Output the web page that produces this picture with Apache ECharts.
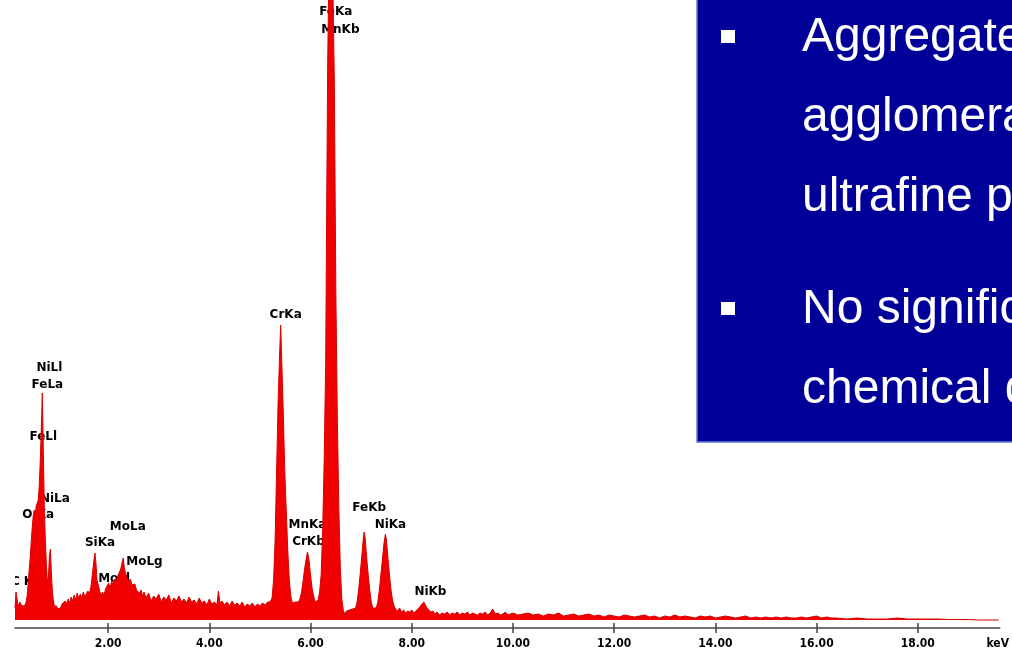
<!DOCTYPE html>
<html>
<head>
<meta charset="utf-8">
<script src="https://cdn.jsdelivr.net/npm/echarts@6/dist/echarts.min.js"></script>
<style>
  html, body { margin: 0; padding: 0; background: #fff; }
  #spectrum { width: 1012px; height: 653px; }
</style>
</head>
<body>
<div id="spectrum"></div>
<script>
// EDS spectrum, [keV, counts]
var spectrum = [
  [0.16, 12], [0.18, 28], [0.20, 30], [0.22, 14], [0.24, 16], [0.26, 18], [0.28, 15], [0.30, 17],
  [0.32, 14], [0.34, 16], [0.36, 15], [0.38, 18], [0.40, 24], [0.42, 36], [0.44, 50], [0.46, 62],
  [0.48, 78], [0.50, 92], [0.52, 104], [0.54, 110], [0.56, 106], [0.58, 114], [0.60, 112], [0.62, 120],
  [0.64, 135], [0.66, 160], [0.68, 192], [0.70, 227], [0.72, 168], [0.74, 110], [0.76, 80], [0.78, 55],
  [0.80, 38], [0.82, 42], [0.84, 64], [0.86, 71], [0.88, 45], [0.90, 28], [0.92, 18], [0.94, 14],
  [0.96, 12], [0.98, 14], [1.00, 11], [1.03, 13], [1.06, 12], [1.09, 16], [1.12, 14], [1.15, 19],
  [1.18, 16], [1.21, 21], [1.24, 17], [1.27, 23], [1.30, 19], [1.33, 25], [1.36, 20], [1.39, 27],
  [1.42, 21], [1.45, 26], [1.48, 22], [1.51, 28], [1.54, 23], [1.57, 25], [1.60, 29], [1.63, 26],
  [1.66, 33], [1.69, 46], [1.72, 60], [1.74, 67], [1.76, 57], [1.78, 40], [1.80, 42], [1.83, 30],
  [1.86, 24], [1.89, 28], [1.92, 25], [1.95, 31], [1.98, 34], [2.01, 37], [2.04, 32], [2.07, 39],
  [2.10, 35], [2.13, 41], [2.16, 38], [2.19, 44], [2.22, 46], [2.25, 51], [2.28, 58], [2.30, 62],
  [2.32, 52], [2.35, 46], [2.38, 42], [2.41, 38], [2.44, 41], [2.47, 35], [2.50, 33], [2.53, 36],
  [2.56, 30], [2.59, 32], [2.62, 27], [2.65, 30], [2.68, 24], [2.71, 28], [2.75, 22], [2.80, 27],
  [2.85, 19], [2.90, 24], [2.95, 21], [3.00, 26], [3.05, 18], [3.10, 23], [3.15, 20], [3.20, 25],
  [3.25, 17], [3.30, 22], [3.35, 19], [3.40, 24], [3.45, 18], [3.50, 21], [3.55, 17], [3.60, 23],
  [3.65, 18], [3.70, 20], [3.75, 16], [3.80, 22], [3.85, 17], [3.90, 19], [3.95, 15], [4.00, 21],
  [4.05, 16], [4.10, 18], [4.15, 15], [4.18, 29], [4.21, 17], [4.25, 19], [4.30, 15], [4.35, 18],
  [4.40, 14], [4.45, 19], [4.50, 15], [4.55, 17], [4.60, 14], [4.65, 18], [4.70, 13], [4.75, 16],
  [4.80, 14], [4.85, 17], [4.90, 13], [4.95, 16], [5.00, 14], [5.05, 17], [5.10, 15], [5.15, 18],
  [5.20, 18], [5.24, 22], [5.27, 40], [5.30, 80], [5.33, 150], [5.36, 220], [5.39, 267], [5.41, 295],
  [5.43, 262], [5.46, 210], [5.49, 150], [5.52, 110], [5.55, 70], [5.58, 40], [5.61, 24], [5.64, 17],
  [5.67, 15], [5.70, 18], [5.73, 16], [5.76, 18], [5.79, 21], [5.82, 27], [5.85, 38], [5.88, 50],
  [5.91, 60], [5.94, 68], [5.97, 60], [6.00, 45], [6.03, 32], [6.06, 24], [6.09, 18], [6.12, 16],
  [6.15, 20], [6.18, 28], [6.21, 45], [6.24, 90], [6.27, 160], [6.30, 260], [6.32, 420], [6.34, 560],
  [6.36, 640], [6.38, 660], [6.41, 660], [6.44, 640], [6.47, 540], [6.50, 330], [6.53, 200], [6.56, 110],
  [6.59, 50], [6.62, 20], [6.65, 9], [6.68, 6], [6.71, 9], [6.74, 7], [6.77, 10], [6.80, 8],
  [6.83, 11], [6.86, 9], [6.89, 12], [6.92, 18], [6.95, 30], [6.98, 45], [7.01, 62], [7.04, 80],
  [7.06, 88], [7.08, 82], [7.11, 62], [7.14, 45], [7.17, 30], [7.20, 18], [7.23, 12], [7.26, 10],
  [7.30, 12], [7.33, 18], [7.36, 30], [7.39, 45], [7.42, 60], [7.45, 76], [7.48, 86], [7.50, 80],
  [7.53, 62], [7.56, 45], [7.59, 30], [7.62, 20], [7.65, 14], [7.68, 11], [7.72, 9], [7.76, 12],
  [7.80, 8], [7.84, 10], [7.88, 7], [7.92, 9], [7.96, 8], [8.00, 10], [8.04, 7], [8.08, 9],
  [8.12, 11], [8.16, 13], [8.20, 16], [8.24, 18], [8.27, 15], [8.30, 12], [8.34, 10], [8.38, 8],
  [8.42, 9], [8.46, 6], [8.50, 8], [8.55, 5], [8.60, 7], [8.65, 6], [8.70, 8], [8.75, 5],
  [8.80, 7], [8.85, 6], [8.90, 8], [8.95, 5], [9.00, 7], [9.05, 6], [9.10, 8], [9.15, 5],
  [9.20, 7], [9.25, 6], [9.30, 5], [9.35, 7], [9.40, 6], [9.45, 8], [9.50, 5], [9.55, 7],
  [9.60, 11], [9.65, 6], [9.70, 7], [9.75, 5], [9.80, 6], [9.85, 8], [9.90, 5], [9.95, 6],
  [10.0, 7], [10.1, 5], [10.2, 6], [10.3, 7], [10.4, 5], [10.5, 6], [10.6, 4], [10.7, 6],
  [10.8, 5], [10.9, 7], [11.0, 4], [11.1, 5], [11.2, 6], [11.3, 4], [11.4, 5], [11.5, 6],
  [11.6, 4], [11.7, 5], [11.8, 3], [11.9, 5], [12.0, 4], [12.1, 3], [12.2, 5], [12.3, 4],
  [12.4, 3], [12.5, 4], [12.6, 5], [12.7, 3], [12.8, 4], [12.9, 2], [13.0, 4], [13.1, 3],
  [13.2, 5], [13.3, 3], [13.4, 4], [13.5, 3], [13.6, 2], [13.7, 4], [13.8, 3], [13.9, 4],
  [14.0, 2], [14.1, 3], [14.2, 4], [14.3, 3], [14.4, 2], [14.5, 3], [14.6, 4], [14.7, 2],
  [14.8, 3], [14.9, 2], [15.0, 3], [15.1, 2], [15.2, 3], [15.3, 2], [15.4, 3], [15.5, 2],
  [15.6, 2], [15.7, 3], [15.8, 2], [16.0, 4], [16.1, 2], [16.2, 3], [16.3, 2], [16.4, 2],
  [16.6, 1], [16.8, 2], [17.0, 1], [17.2, 1], [17.4, 1], [17.6, 2], [17.8, 1], [18.0, 1],
  [18.2, 1], [18.4, 1], [18.6, 0.5], [18.8, 0.5], [19.0, 0.5], [19.2, 0], [19.6, 0]
];

// peak labels: [text, keV, label height]
var peakLabels = [
  ['FeKa', 6.40, 608], ['MnKb', 6.49, 590], ['CrKa', 5.41, 305],
  ['NiLl', 0.74, 252], ['FeLa', 0.70, 235], ['FeLl', 0.62, 183],
  ['NiLa', 0.85, 121], ['O Ka', 0.52, 105], ['C Ka', 0.28, 38],
  ['SiKa', 1.74, 77], ['MoLa', 2.29, 93], ['MoLg', 2.62, 58], ['MoLl', 2.02, 41],
  ['MnKa', 5.84, 95], ['CrKb', 5.86, 78], ['FeKb', 7.06, 112],
  ['NiKa', 7.48, 95], ['NiKb', 8.27, 28]
];

var tickValues = [2, 4, 6, 8, 10, 12, 14, 16, 18];
var unitAt = 19.58;

var bulletLines = [
  'Aggregates and',
  'agglomerates of',
  'ultrafine particles',
  'No significant',
  'chemical differences'
];

var myChart = echarts.init(document.getElementById('spectrum'));

var boxGraphics = [
  {
    type: 'rect',
    shape: { x: 697, y: -2, width: 330, height: 444 },
    style: { fill: '#000099', stroke: '#5a7fd8', lineWidth: 1.5 },
    z: 50
  },
  { type: 'rect', shape: { x: 721, y: 30, width: 14, height: 13 }, style: { fill: '#fff' }, z: 51 },
  { type: 'rect', shape: { x: 721, y: 302, width: 14, height: 13 }, style: { fill: '#fff' }, z: 51 },
  // clip the half-hidden C Ka label at the plot edge
  { type: 'rect', shape: { x: 0, y: 560, width: 15, height: 40 }, style: { fill: '#fff' }, z: 49 }
];
var lineTops = [38, 118, 198, 310, 390];
bulletLines.forEach(function (t, i) {
  boxGraphics.push({
    type: 'text',
    x: 802,
    y: lineTops[i],
    z: 52,
    style: {
      text: t,
      fill: '#fff',
      font: '48px "Liberation Sans", Arial, sans-serif',
      verticalAlign: 'middle'
    }
  });
});

myChart.setOption({
  animation: false,
  grid: { left: 15, right: 12, top: 0, bottom: 25 },
  xAxis: [
    {
      type: 'value',
      min: 0.16,
      max: 19.62,
      splitLine: { show: false },
      axisLine: { onZero: false, lineStyle: { color: '#444', width: 1.5 } },
      axisTick: {
        show: true,
        customValues: tickValues,
        length: 5,
        lineStyle: { color: '#444', width: 1.5 }
      },
      axisLabel: {
        customValues: tickValues.concat([unitAt]),
        margin: 10,
        color: '#000',
        fontFamily: '"DejaVu Sans Condensed", "DejaVu Sans", sans-serif',
        fontWeight: 'bold',
        fontSize: 12,
        formatter: function (v) {
          return v > 19 ? 'keV' : v.toFixed(2);
        }
      }
    },
    {
      type: 'value',
      min: 0.16,
      max: 19.62,
      position: 'bottom',
      splitLine: { show: false },
      axisLine: { show: false, onZero: false },
      axisLabel: { show: false },
      axisTick: {
        show: true,
        inside: true,
        customValues: tickValues,
        length: 5,
        lineStyle: { color: '#444', width: 1.5 }
      }
    }
  ],
  yAxis: {
    type: 'value',
    min: -8,
    max: 620,
    show: false
  },
  series: [
    {
      name: 'labels',
      type: 'scatter',
      z: 1,
      symbolSize: 1,
      itemStyle: { color: 'rgba(0,0,0,0)', opacity: 1 },
      label: {
        show: true,
        position: [5.5, 0.5],
        align: 'center',
        verticalAlign: 'middle',
        color: '#000',
        fontFamily: '"DejaVu Sans", sans-serif',
        fontWeight: 'bold',
        fontSize: 12,
        formatter: function (p) {
          return p.data[2];
        }
      },
      labelLayout: { hideOverlap: false },
      data: peakLabels.map(function (d) {
        return [d[1], d[2], d[0]];
      })
    },
    {
      name: 'spectrum',
      type: 'line',
      z: 3,
      showSymbol: false,
      sampling: 'none',
      lineStyle: { color: '#d80000', width: 1 },
      areaStyle: { color: '#f00000', opacity: 1 },
      data: spectrum
    }
  ],
  graphic: boxGraphics
});

window.addEventListener('resize', function () {
  myChart.resize();
});
</script>
</body>
</html>
